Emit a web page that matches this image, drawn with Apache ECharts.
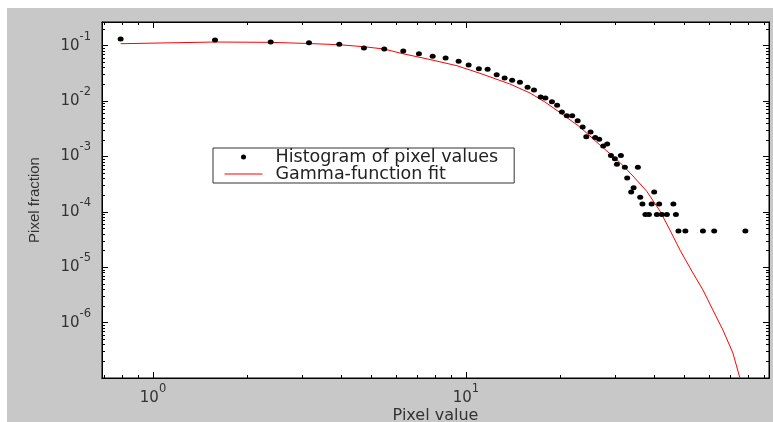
<!DOCTYPE html>
<html><head><meta charset="utf-8">
<script src="https://cdn.jsdelivr.net/npm/echarts@6/dist/echarts.min.js"></script>
<style>
html,body{margin:0;padding:0;background:#fff;width:773px;height:422px;overflow:hidden}
#c{position:absolute;left:7px;top:8px;width:766px;height:414px;background:#c8c8c8}
</style>
</head><body><div id="c"></div>
<script>
// Histogram of pixel values
const histX = [0.788, 1.578, 2.377, 3.151, 3.937, 4.722, 5.483, 6.305, 7.075, 7.828,
  8.613, 9.477, 10.2, 11.0, 11.73, 12.54, 13.29, 14.05, 14.88, 15.74,
  16.5, 17.33, 17.95, 18.83, 19.56, 20.26, 21.02, 21.86, 22.75, 23.6,
  24.24, 25.02, 25.88, 26.67, 27.46, 28.28, 29.06, 29.92, 30.37, 31.27,
  32.21, 32.76, 33.74, 34.34, 35.44, 36.05, 36.64, 37.46, 38.44, 39.21,
  39.96, 40.76, 41.46, 42.29, 43.87, 46.02, 46.88, 47.75, 50.27, 57.19,
  62.13, 78.16];
const histY = [0.132, 0.127, 0.117, 0.113, 0.106, 0.0909, 0.0872, 0.0802, 0.0717, 0.0644,
  0.060, 0.0523, 0.0448, 0.0385, 0.0375, 0.0300, 0.0261, 0.0237, 0.0219, 0.0177,
  0.0159, 0.0118, 0.0114, 0.00976, 0.00843, 0.00636, 0.00545, 0.00545, 0.00443, 0.00341,
  0.00228, 0.00277, 0.00219, 0.00204, 0.00155, 0.00168, 0.00104, 0.00091, 0.00072, 0.00104,
  0.00064, 0.00041, 0.000229, 0.000273, 0.00064, 0.000183, 0.000139, 0.00009, 0.00009, 0.000139,
  0.000229, 0.00009, 0.000139, 0.00009, 0.00009, 0.000139, 0.00009, 0.0000452, 0.0000452, 0.0000452,
  0.0000452, 0.0000452];
// Gamma-function fit
const fitX = [0.788, 1.578, 2.365, 3.151, 3.929, 4.722, 5.47, 6.245, 7.674, 9.36,
  11.08, 13.82, 16.02, 17.88, 19.97, 23.13, 26.8, 31.05, 34.17, 37.87,
  41.67, 44.86, 48.28, 53.12, 57.19, 61.53, 66.24, 71.29, 75.06];
const fitY = [0.1087, 0.1166, 0.1151, 0.1096, 0.1042, 0.0959, 0.0872, 0.0723, 0.0563, 0.04355,
  0.03176, 0.02036, 0.0140, 0.00963, 0.00622, 0.003408, 0.001613, 0.000779, 0.000445, 0.0002334,
  0.0001038, 0.0000471, 0.00002053, 0.00000789, 0.000003894, 0.000001695, 0.000000738, 0.0000002838, 0.0000001004];

// Axis ticks and labels
const xLabelValues = [1, 10];
const yLabelValues = [1e-6, 1e-5, 1e-4, 1e-3, 1e-2, 1e-1];
const xMajorTicks = [1, 10];
const yMajorTicks = [1e-7, 1e-6, 1e-5, 1e-4, 1e-3, 1e-2, 1e-1];
const xMinorTicks = [0.7, 0.8, 0.9, 2, 3, 4, 5, 6, 7, 8, 9, 20, 30, 40, 50, 60, 70, 80, 90];
const minorMultipliers = [2, 3, 4, 5, 6, 7, 8, 9];
const yDecades = [1e-7, 1e-6, 1e-5, 1e-4, 1e-3, 1e-2, 1e-1];
const yMinorTicks = [];
yDecades.forEach(d => minorMultipliers.forEach(m => { const v = +(m * d).toPrecision(3); if (v < 0.268) yMinorTicks.push(v); }));

const X_MIN = 0.687, X_MAX = 93, Y_MIN = 1e-7, Y_MAX = 0.268;
const TXT = '#333';
const HFONT = 'DejaVu Sans';

const rich = {
  b: { fontFamily: HFONT, fontSize: 15, lineHeight: 16, color: TXT },
  s: { fontFamily: HFONT, fontSize: 11.5, lineHeight: 12, color: TXT, padding: [0, 0, 18, 0] }
};
function powFmt(v) {
  const e = Math.round(Math.log10(v));
  return '{b|10}{s|' + e + '}';
}

function mkAxis(pos, ticks, len, opts) {
  const a = {
    type: 'log', logBase: 10, gridIndex: 0, position: pos,
    axisLine: { show: true, onZero: false, lineStyle: { color: '#000', width: 1 } },
    axisTick: { show: true, inside: true, length: len, customValues: ticks, lineStyle: { color: '#000', width: 1 } },
    axisLabel: { show: false },
    splitLine: { show: false },
    minorTick: { show: false },
    minorSplitLine: { show: false }
  };
  return Object.assign(a, opts || {});
}

const xBase = { min: X_MIN, max: X_MAX };
const yBase = { min: Y_MIN, max: Y_MAX };

const xAxes = [
  mkAxis('bottom', xMinorTicks, 3, Object.assign({}, xBase, {
    axisLabel: { show: true, customValues: xLabelValues, formatter: powFmt, rich: rich, margin: 12 },
    name: 'Pixel value', nameLocation: 'middle', nameGap: 30, nameMoveOverlap: false,
    nameTextStyle: { fontFamily: HFONT, fontSize: 16, color: TXT }
  })),
  mkAxis('bottom', xMajorTicks, 6, xBase),
  mkAxis('top', xMinorTicks, 3, xBase),
  mkAxis('top', xMajorTicks, 6, xBase)
];
const yAxes = [
  mkAxis('left', yMinorTicks, 3, Object.assign({}, yBase, {
    axisLabel: { show: true, customValues: yLabelValues, formatter: powFmt, rich: rich, margin: 11 },
    name: 'Pixel fraction', nameLocation: 'middle', nameGap: 60, nameMoveOverlap: false,
    nameTextStyle: { fontFamily: 'Liberation Sans', fontSize: 15, color: TXT }
  })),
  mkAxis('left', yMajorTicks, 6, yBase),
  mkAxis('right', yMinorTicks, 3, yBase),
  mkAxis('right', yMajorTicks, 6, yBase)
];

const histData = histX.map((x, i) => [x, histY[i]]);
const fitData = fitX.map((x, i) => [x, fitY[i]]);

const chart = echarts.init(document.getElementById('c'), null, { renderer: 'canvas' });
chart.setOption({
  backgroundColor: 'transparent',
  animation: false,
  grid: {
    left: 95, top: 14, width: 667, height: 356,
    show: true, backgroundColor: '#fff', borderColor: '#000', borderWidth: 1,
    containLabel: false, outerBoundsMode: 'none'
  },
  xAxis: xAxes,
  yAxis: yAxes,
  legend: {
    left: 206, top: 140, orient: 'vertical',
    backgroundColor: '#fff', borderColor: '#333', borderWidth: 1,
    padding: [0, 16, 0, 11], itemGap: -1, itemWidth: 38, itemHeight: 5,
    textStyle: { fontFamily: HFONT, fontSize: 17.5, lineHeight: 15, color: '#222', padding: [0, 0, 0, 8] },
    data: [
      { name: 'Histogram of pixel values', icon: 'circle', itemStyle: { color: '#000', opacity: 1 } },
      { name: 'Gamma-function fit',
        itemStyle: { color: 'rgba(0,0,0,0)', borderWidth: 0 },
        lineStyle: { color: '#ff0000', width: 1, opacity: 1 } }
    ]
  },
  series: [
    {
      name: 'Gamma-function fit', type: 'line', xAxisIndex: 0, yAxisIndex: 0,
      data: fitData, symbol: 'none', showSymbol: false, smooth: false, legendIcon: 'inherit',
      lineStyle: { color: '#ff0000', width: 1, opacity: 1 }, itemStyle: { color: '#ff0000' }, z: 2
    },
    {
      name: 'Histogram of pixel values', type: 'scatter', xAxisIndex: 0, yAxisIndex: 0,
      data: histData, symbol: 'circle', symbolSize: [6, 5],
      itemStyle: { color: '#000', opacity: 1 }, z: 3
    }
  ]
});
</script>
</body></html>
